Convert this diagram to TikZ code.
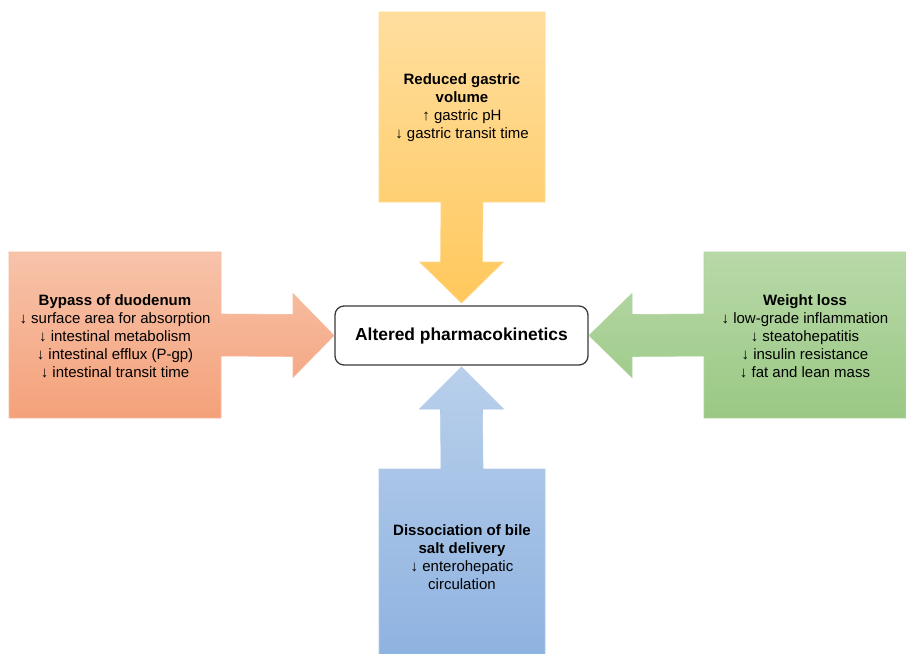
\documentclass[tikz,border=0pt]{standalone}
\usepackage{fontspec}
\setmainfont{Liberation Sans}
\usetikzlibrary{calc}
\definecolor{yTop}{HTML}{FFDE9E}
\definecolor{yBot}{HTML}{FFC85C}
\definecolor{yLine}{HTML}{FFD98F}
\definecolor{rTop}{HTML}{F7C3AA}
\definecolor{rBot}{HTML}{F4A17A}
\definecolor{rLine}{HTML}{F6BB9E}
\definecolor{gTop}{HTML}{B8D9A8}
\definecolor{gBot}{HTML}{9AC884}
\definecolor{gLine}{HTML}{B0D49E}
\definecolor{bTop}{HTML}{B9D0EB}
\definecolor{bBot}{HTML}{8EB2E0}
\definecolor{bLine}{HTML}{AFC8E8}
\definecolor{pkLine}{HTML}{3A3A3A}
\tikzset{
  boxgeom/.style={rectangle, inner sep=0pt, outer sep=0pt},
  txt/.style={align=center, font=\fontsize{15}{18}\selectfont, text=black, inner sep=0pt},
  shapeline/.style={line width=0.6pt},
  pkbox/.style={rectangle, rounded corners=9pt, draw=pkLine, line width=1.3pt, fill=white,
    minimum width=253pt, minimum height=59pt, inner sep=0pt, outer sep=0pt,
    font=\fontsize{17.4}{20}\selectfont\bfseries}
}
\begin{document}
\begin{tikzpicture}[x=1pt,y=-1pt]
\useasboundingbox (0,0) rectangle (906,654);
% geometry nodes
\node[boxgeom, minimum width=166pt, minimum height=190pt] (gastric) at (462,107) {};
\node[boxgeom, minimum width=212pt, minimum height=166pt] (duod) at (115,335) {};
\node[boxgeom, minimum width=202pt, minimum height=166pt] (weight) at (805,335) {};
\node[boxgeom, minimum width=166pt, minimum height=190pt] (bile) at (462,564) {};
\node[pkbox] (pk) at (461.5,335.5) {Altered pharmacokinetics};
% yellow (top)
\shade[top color=yTop, bottom color=yBot, draw=yLine, shapeline]
  (gastric.north west) -- (gastric.north east) -- (gastric.south east)
  -- ($(gastric.south)+(21,0)$) -- ($(pk.north)+(21,-44)$) -- ($(pk.north)+(42,-44)$)
  -- ($(pk.north)+(0,-3)$) -- ($(pk.north)+(-42,-44)$) -- ($(pk.north)+(-21,-44)$)
  -- ($(gastric.south)+(-21,0)$) -- (gastric.south west) -- cycle;
% red (left)
\shade[top color=rTop, bottom color=rBot, draw=rLine, shapeline]
  (duod.north west) -- (duod.north east) -- ($(duod.east)+(0,-21)$)
  -- ($(pk.west)+(-42,-21)$) -- ($(pk.west)+(-42,-42)$) -- ($(pk.west)+(-1,0)$)
  -- ($(pk.west)+(-42,42)$) -- ($(pk.west)+(-42,21)$) -- ($(duod.east)+(0,21)$)
  -- (duod.south east) -- (duod.south west) -- cycle;
% green (right)
\shade[top color=gTop, bottom color=gBot, draw=gLine, shapeline]
  (weight.north east) -- (weight.north west) -- ($(weight.west)+(0,-21)$)
  -- ($(pk.east)+(44,-21)$) -- ($(pk.east)+(44,-42)$) -- ($(pk.east)+(1,0)$)
  -- ($(pk.east)+(44,42)$) -- ($(pk.east)+(44,21)$) -- ($(weight.west)+(0,21)$)
  -- (weight.south west) -- (weight.south east) -- cycle;
% blue (bottom)
\shade[top color=bTop, bottom color=bBot, draw=bLine, shapeline]
  (bile.south west) -- (bile.south east) -- (bile.north east)
  -- ($(bile.north)+(21,0)$) -- ($(pk.south)+(21,44)$) -- ($(pk.south)+(42,44)$)
  -- ($(pk.south)+(0,2)$) -- ($(pk.south)+(-42,44)$) -- ($(pk.south)+(-21,44)$)
  -- ($(bile.north)+(-21,0)$) -- (bile.north west) -- cycle;
% texts
\node[txt] (tgastric) at (462,108) {\textbf{Reduced gastric}\\\textbf{volume}\\↑ gastric pH\\↓ gastric transit time};
\node[txt] (tduod) at (115,336) {\textbf{Bypass of duodenum}\\↓ surface area for absorption\\↓ intestinal metabolism\\↓ intestinal efflux (P-gp)\\↓ intestinal transit time};
\node[txt] (tweight) at (805,336) {\textbf{Weight loss}\\↓ low-grade inflammation\\↓ steatohepatitis\\↓ insulin resistance\\↓ fat and lean mass};
\node[txt] (tbile) at (462,557) {\textbf{Dissociation of bile}\\\textbf{salt delivery}\\↓ enterohepatic\\circulation};
\end{tikzpicture}
\end{document}
